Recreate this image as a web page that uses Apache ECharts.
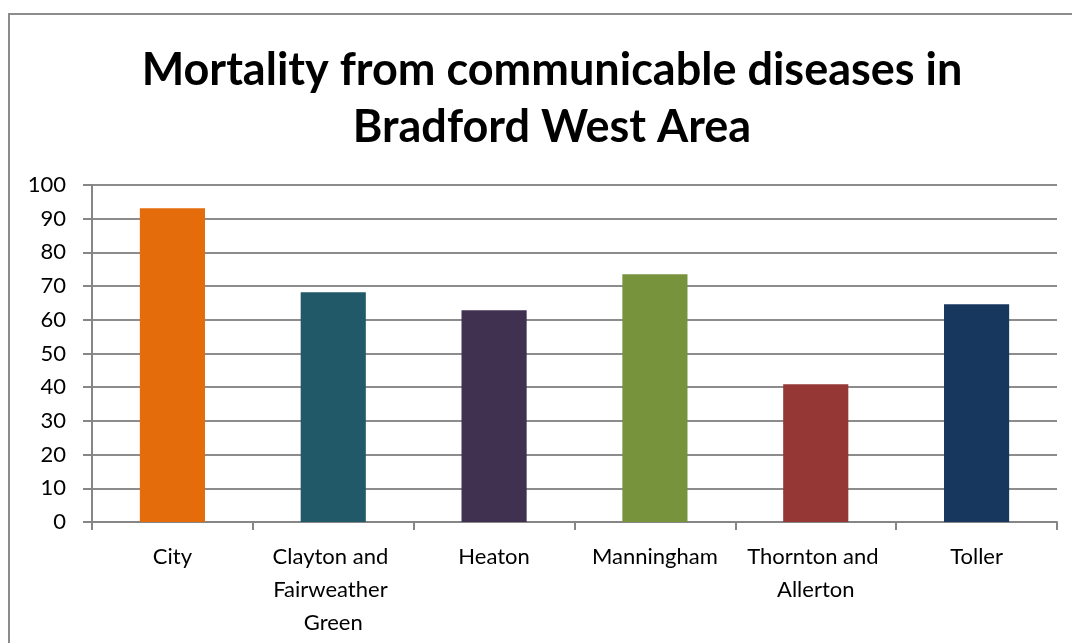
<!DOCTYPE html>
<html>
<head>
<meta charset="utf-8">
<script src="https://cdn.jsdelivr.net/npm/echarts@6/dist/echarts.min.js"></script>
<style>
  html, body { margin: 0; padding: 0; background: #fff; }
  #chart { width: 1072px; height: 643px; }
</style>
</head>
<body>
<div id="chart"></div>
<script>
// Mortality from communicable diseases, by ward
const wards = ['City', 'Clayton and Fairweather Green', 'Heaton', 'Manningham', 'Thornton and Allerton', 'Toller'];
const mortality = [93.1, 68.2, 62.8, 73.5, 40.9, 64.6];
const barColors = ['#E46C0A', '#215968', '#403151', '#77933C', '#953735', '#17375E'];

const chart = echarts.init(document.getElementById('chart'));
const fontFamily = 'Lato, "Open Sans", sans-serif';

chart.setOption({
  animation: false,
  backgroundColor: '#ffffff',
  title: {
    text: 'Mortality from communicable diseases in\nBradford West Area',
    left: 547,
    textAlign: 'center',
    top: 37,
    textStyle: {
      fontFamily: fontFamily,
      fontWeight: 'bold',
      fontSize: 45,
      lineHeight: 57,
      color: '#000000'
    }
  },
  graphic: [{
    type: 'rect',
    shape: { x: 9, y: 14, width: 1100, height: 700 },
    style: { fill: 'none', stroke: '#8c8c8c', lineWidth: 2 },
    silent: true
  }],
  grid: { left: 92, right: 15, top: 185, bottom: 121 },
  xAxis: {
    type: 'category',
    data: wards,
    axisLine: { lineStyle: { color: '#868686', width: 2 } },
    axisTick: { show: true, alignWithLabel: false, length: 8, lineStyle: { color: '#868686', width: 2 } },
    axisLabel: {
      fontFamily: fontFamily,
      fontSize: 22,
      color: '#000000',
      margin: 18,
      lineHeight: 33,
      width: 158,
      overflow: 'break',
      interval: 0
    }
  },
  yAxis: {
    type: 'value',
    min: 0,
    max: 100,
    interval: 10,
    axisLine: { show: true, lineStyle: { color: '#868686', width: 2 } },
    axisTick: { show: true, length: 9, lineStyle: { color: '#868686', width: 2 } },
    splitLine: { lineStyle: { color: '#8c8c8c', width: 2 } },
    axisLabel: {
      fontFamily: fontFamily,
      fontSize: 22,
      color: '#000000',
      margin: 26
    }
  },
  series: [{
    type: 'bar',
    data: mortality.map((v, i) => ({ value: v, itemStyle: { color: barColors[i] } })),
    barWidth: '40.5%'
  }]
});
</script>
</body>
</html>
